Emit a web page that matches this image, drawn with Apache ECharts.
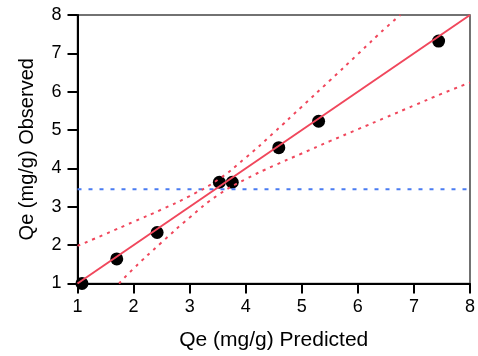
<!DOCTYPE html>
<html>
<head>
<meta charset="utf-8">
<script src="https://cdn.jsdelivr.net/npm/echarts@6/dist/echarts.min.js"></script>
<style>
  html, body { margin: 0; padding: 0; background: #fff; }
  #chart { width: 478px; height: 356px; }
</style>
</head>
<body>
<div id="chart"></div>
<script>
// observed vs predicted points
const predicted = [1.08, 1.70, 2.42, 3.53, 3.76, 4.59, 5.30, 7.44];
const observed = [1.00, 1.64, 2.33, 3.64, 3.64, 4.54, 5.23, 7.32];

// fit line
const fitX = [1, 8];
const fitY = [1, 8];

// confidence curves
const upperX = [1, 1.5, 2, 2.5, 3, 3.5, 4, 4.5, 5, 5.5, 6, 6.5, 6.76];
const upperY = [1.98, 2.29, 2.61, 2.93, 3.28, 3.70, 4.28, 4.93, 5.61, 6.29, 6.98, 7.67, 8.0];
const lowerX = [1.74, 2, 2.5, 3, 3.5, 4, 4.5, 5, 5.5, 6, 6.5, 7, 7.5, 8];
const lowerY = [1.0, 1.39, 2.07, 2.72, 3.30, 3.72, 4.07, 4.39, 4.71, 5.02, 5.33, 5.64, 5.95, 6.24];

// mean line
const meanX = [1, 8];
const meanY = 3.46;

const axisTicks = [1, 2, 3, 4, 5, 6, 7, 8];

const font = 'Liberation Sans, Arial, sans-serif';
const red = '#f0475c';
const zip = (xs, ys) => xs.map((x, i) => [x, ys[i]]);

const chart = echarts.init(document.getElementById('chart'));

const baseAxis = {
  type: 'value',
  min: axisTicks[0],
  max: axisTicks[axisTicks.length - 1],
  interval: 1,
  splitLine: { show: false },
  axisLine: { show: true, lineStyle: { color: '#000', width: 2 } },
  axisTick: { show: true, inside: false, length: 10, lineStyle: { color: '#000', width: 2 } },
  axisLabel: { color: '#000', fontSize: 18, fontFamily: font }
};

chart.setOption({
  animation: false,
  backgroundColor: '#fff',
  grid: {
    left: 77.5, right: 6, top: 15, bottom: 72.5,
    show: true, borderColor: '#444', borderWidth: 1.5, backgroundColor: 'transparent'
  },
  xAxis: Object.assign({}, baseAxis, {
    name: 'Qe (mg/g) Predicted',
    nameLocation: 'middle',
    nameGap: 46,
    nameTextStyle: { color: '#000', fontSize: 21, fontFamily: font },
    axisLabel: Object.assign({}, baseAxis.axisLabel, { margin: 15 })
  }),
  yAxis: Object.assign({}, baseAxis, {
    name: 'Qe (mg/g) Observed',
    nameLocation: 'middle',
    nameGap: 40,
    nameTextStyle: { color: '#000', fontSize: 20, fontFamily: font },
    axisLabel: Object.assign({}, baseAxis.axisLabel, { margin: 16 })
  }),
  series: [
    {
      type: 'line',
      data: zip(meanX, [meanY, meanY]),
      showSymbol: false,
      lineStyle: { color: '#4a7cf2', width: 2, type: [4, 7] }
    },
    {
      type: 'line',
      data: zip(upperX, upperY),
      smooth: true,
      showSymbol: false,
      lineStyle: { color: red, width: 2, type: [3, 5] }
    },
    {
      type: 'line',
      data: zip(lowerX, lowerY),
      smooth: true,
      showSymbol: false,
      lineStyle: { color: red, width: 2, type: [3, 5] }
    },
    {
      type: 'line',
      data: zip(fitX, fitY),
      showSymbol: false,
      lineStyle: { color: red, width: 2 }
    },
    {
      type: 'scatter',
      data: zip(predicted, observed),
      symbolSize: 13,
      itemStyle: { color: '#000', opacity: 1 }
    }
  ]
});

window.addEventListener('resize', () => {
  chart.resize();
});
</script>
</body>
</html>
